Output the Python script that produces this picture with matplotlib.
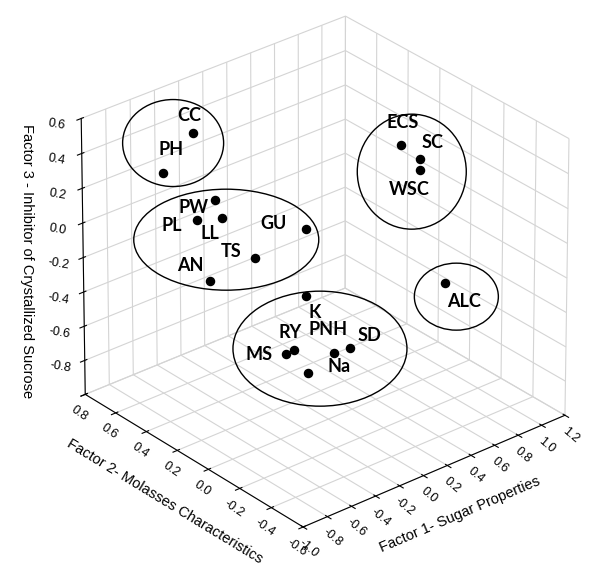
import numpy as np
import matplotlib
matplotlib.use('Agg')
import matplotlib.pyplot as plt
from matplotlib.patches import Ellipse
from mpl_toolkits.mplot3d import proj3d

plt.rcParams['axes.unicode_minus'] = False
plt.rcParams['font.family'] = ['Liberation Sans', 'DejaVu Sans']

# factor scores
names = ['CC', 'PH', 'PW', 'LL', 'PL', 'GU', 'TS', 'AN',
         'K', 'RY', 'MS', 'Na', 'SD', 'PNH',
         'ECS', 'SC', 'WSC', 'ALC']
f1 = [-0.34, -0.46, -0.42, -0.49, -0.44, -0.19, -0.48, -0.59,
      -0.45, -0.55, -0.55, -0.35, -0.35, -0.50,
      0.74, 0.83, 0.77, 0.58]
f2 = [0.60, 0.70, 0.40, 0.30, 0.50, 0.00, 0.10, 0.30,
      -0.20, -0.20, -0.15, -0.30, -0.40, -0.25,
      0.10, 0.05, 0.00, -0.30]
f3 = [0.44, 0.19, 0.18, 0.15, 0.02, 0.16, 0.02, -0.19,
      -0.05, -0.33, -0.38, -0.35, -0.27, -0.45,
      0.33, 0.25, 0.23, -0.21]

# label offsets in pixels (dx, dy up)
lab_off = {'CC': (-4, 17), 'PH': (8, 24), 'PW': (-21, -8), 'LL': (-12, -16),
           'PL': (-25, -6), 'GU': (-32, 5), 'TS': (-24, 6), 'AN': (-20, 16),
           'K': (9, -16), 'RY': (-4, 18), 'MS': (-27, 0), 'Na': (5, -14),
           'SD': (19, 13), 'PNH': (20, 44), 'ECS': (2, 23), 'SC': (13, 17),
           'WSC': (-11, -19), 'ALC': (19, -19)}

# groups circled on the chart: members, width, height, shift (px)
groups = [
    (['CC', 'PH'], 101, 87, (-5, 10)),
    (['PW', 'LL', 'PL', 'GU', 'TS', 'AN'], 185, 101, (-25, 1)),
    (['K', 'RY', 'MS', 'Na', 'SD', 'PNH'], 174, 115, (2, -14)),
    (['ECS', 'SC', 'WSC'], 109, 115, (1, -14)),
    (['ALC'], 84, 67, (11, -14)),
]

xticks = [-1.0, -0.8, -0.6, -0.4, -0.2, 0.0, 0.2, 0.4, 0.6, 0.8, 1.0, 1.2]
yticks = [-0.6, -0.4, -0.2, 0.0, 0.2, 0.4, 0.6, 0.8]
zticks = [-1.0, -0.8, -0.6, -0.4, -0.2, 0.0, 0.2, 0.4, 0.6]

fig = plt.figure(figsize=(5.98, 5.68), dpi=100)
ax = fig.add_axes([0.03, 0.015, 1, 1], projection='3d')
ax.view_init(elev=29, azim=-130)
ax.set_proj_type('persp', focal_length=3)
ax.set_box_aspect((1, 1, 0.92), zoom=0.99)

ax.scatter(f1, f2, f3, color='black', s=34, depthshade=False)

ax.set_xlim(-1.0, 1.2)
ax.set_ylim(-0.6, 0.8)
ax.set_zlim(-1.0, 0.6)
ax.set_xticks(xticks)
ax.set_yticks(yticks)
ax.set_zticks(zticks)
ax.set_xticklabels(['%.1f' % v for v in xticks], rotation=-40)
ax.set_yticklabels(['%.1f' % v for v in yticks], rotation=-35)
ax.set_zticklabels(['' if v == -1.0 else '%.1f' % v for v in zticks], rotation=-10)
ax.tick_params(labelsize=9)
ax.tick_params(axis='x', pad=-3)
ax.tick_params(axis='y', pad=-3)
ax.tick_params(axis='z', pad=3)

for a in (ax.xaxis, ax.yaxis, ax.zaxis):
    a.set_pane_color((1, 1, 1, 1))
    a._axinfo['grid']['color'] = '#d4d4d4'
    a._axinfo['grid']['linewidth'] = 0.8

narrow = ['Liberation Sans Narrow', 'Liberation Sans']
ax.set_xlabel('Factor 1- Sugar Properties', fontsize=10.5, labelpad=2, family=narrow)
ax.set_ylabel('Factor 2- Molasses Characteristics', fontsize=10.5, labelpad=2, family=narrow)
fig.text(0.045, 0.54, 'Factor 3 - Inhibitor of Crystallized Sucrose',
         rotation=270, fontsize=10.5, ha='center', va='center', family=narrow)

fig.canvas.draw()
proj = ax.get_proj()
px, py, _ = proj3d.proj_transform(np.array(f1), np.array(f2), np.array(f3), proj)
disp = ax.transData.transform(np.column_stack([px, py]))
pos = dict(zip(names, disp))

for n in names:
    dx, dy = lab_off[n]
    ax.annotate(n, xy=(0, 0), xycoords='figure pixels',
                xytext=(pos[n][0] + dx, pos[n][1] + dy), textcoords='figure pixels',
                ha='center', va='center', fontsize=13, fontweight='bold',
                family='Lato')

for members, w, h, (sx, sy) in groups:
    pts = np.array([pos[m] for m in members])
    cx = (pts[:, 0].min() + pts[:, 0].max()) / 2 + sx
    cy = (pts[:, 1].min() + pts[:, 1].max()) / 2 + sy
    fig.patches.append(Ellipse((cx, cy), w, h, transform=None, fill=False,
                               edgecolor='black', linewidth=1.0))

fig.savefig('out.png', dpi=100)
